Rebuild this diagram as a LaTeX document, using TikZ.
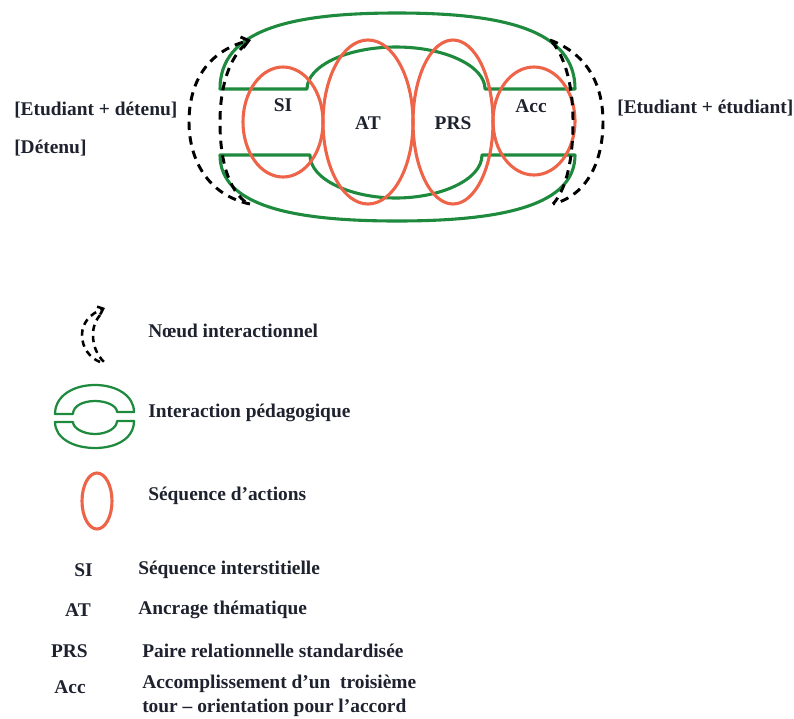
\documentclass[tikz,border=0pt]{standalone}
\usepackage{fontspec}
\setmainfont{Liberation Serif}
\usetikzlibrary{arrows.meta}

\definecolor{bandgreen}{RGB}{30,138,62}
\definecolor{seqred}{RGB}{238,100,72}
\definecolor{inkdark}{RGB}{30,34,46}

\tikzset{
  band/.style={draw=bandgreen, line width=2.2pt, line join=round},
  seqloop/.style={draw=seqred, line width=2.2pt},
  noeud/.style={draw=black, line width=2.1pt, dash pattern=on 6pt off 4.5pt},
  lbl/.style={text=inkdark, font=\bfseries\fontsize{13.8}{17}\selectfont, inner sep=0pt},
}

\begin{document}
\begin{tikzpicture}[x=0.025cm, y=-0.025cm]
  \useasboundingbox (0,0) rectangle (794,718);

  % pedagogical interaction (two green bands)
  \draw[band] (220,89) .. controls (220,30) and (290,13) .. (397,13)
        .. controls (504,13) and (575,30) .. (575,89) -- (485,89)
        .. controls (485,66) and (445,47) .. (396,47)
        .. controls (347,47) and (307,66) .. (307,89) -- cycle;
  \draw[band] (220,155) .. controls (220,205) and (290,221) .. (397,221)
        .. controls (504,221) and (575,205) .. (575,155) -- (482,155)
        .. controls (482,180) and (440,198) .. (396,198)
        .. controls (352,198) and (310,180) .. (310,155) -- cycle;

  % action sequences
  \draw[seqloop] (283,122) ellipse [x radius=40, y radius=55];
  \draw[seqloop] (368,122) ellipse [x radius=45, y radius=82];
  \draw[seqloop] (453,122) ellipse [x radius=40, y radius=82];
  \draw[seqloop] (534,121) ellipse [x radius=41, y radius=54];

  \node[lbl] (si)  at (283,105) {SI};
  \node[lbl] (at)  at (368,123) {AT};
  \node[lbl] (prs) at (453,123) {PRS};
  \node[lbl] (acc) at (531,106) {Acc};

  % interactional nodes
  \draw[noeud, -{Straight Barb[length=5pt,width=8pt]}] (250,204) .. controls (208,195) and (189,160) .. (189,122)
        .. controls (189,85) and (205,52) .. (251,40);
  \draw[noeud] (246,44) .. controls (230,57) and (220,85) .. (220,122)
        .. controls (220,160) and (228,190) .. (248,204);
  \draw[noeud] (550,40) .. controls (590,55) and (603,88) .. (603,122)
        .. controls (603,160) and (588,195) .. (553,204);
  \draw[noeud] (552,42) .. controls (566,58) and (573,88) .. (573,122)
        .. controls (573,160) and (566,190) .. (553,204);

  \node[lbl, anchor=west] (etdet) at (14,110) {[Etudiant + détenu]};
  \node[lbl, anchor=west] (det)   at (14,148) {[Détenu]};
  \node[lbl, anchor=west] (etet)  at (617,108) {[Etudiant + étudiant]};

  % legend
  \draw[noeud, line width=1.8pt, dash pattern=on 4.5pt off 3.5pt, -{Straight Barb[length=3.5pt,width=6pt]}]
        (100,362) .. controls (90,358) and (82,348) .. (82,335)
        .. controls (82,323) and (90,314) .. (105,308);
  \draw[noeud, line width=1.8pt, dash pattern=on 4.5pt off 3.5pt]
        (100,315) .. controls (96,320) and (93,326) .. (93,335)
        .. controls (93,346) and (97,355) .. (104,362);
  \node[lbl, anchor=west] (lnoeud) at (148,331) {Nœud interactionnel};

  \draw[band, line width=1.6pt] (55,414) .. controls (55,396) and (73,385) .. (95,385)
        .. controls (117,385) and (134,396) .. (134,412) -- (117,412)
        .. controls (117,406) and (107,401) .. (95,401)
        .. controls (83,401) and (73,406) .. (73,414) -- cycle;
  \draw[band, line width=1.6pt] (55,422) .. controls (55,438) and (73,448) .. (95,448)
        .. controls (117,448) and (134,438) .. (134,421) -- (117,421)
        .. controls (117,428) and (107,434) .. (95,434)
        .. controls (83,434) and (73,428) .. (73,422) -- cycle;
  \node[lbl, anchor=west] (linter) at (148,413) {Interaction pédagogique};

  \draw[seqloop] (97,501) ellipse [x radius=15, y radius=28];
  \node[lbl, anchor=west] (lseq) at (148,496) {Séquence d’actions};

  % abbreviations
  \node[lbl, anchor=east] (asi)  at (93,570) {SI};
  \node[lbl, anchor=east] (aat)  at (91,610) {AT};
  \node[lbl, anchor=east] (aprs) at (88,651) {PRS};
  \node[lbl, anchor=east] (aacc) at (86,687) {Acc};
  \node[lbl, anchor=west] (dsi)  at (138,570) {Séquence interstitielle};
  \node[lbl, anchor=west] (dat)  at (138,610) {Ancrage thématique};
  \node[lbl, anchor=west] (dprs) at (142,651) {Paire relationnelle standardisée};
  \node[lbl, anchor=west, align=left] (dacc) at (142,696)
        {Accomplissement d’un~ troisième\\tour – orientation pour l’accord};
\end{tikzpicture}
\end{document}
